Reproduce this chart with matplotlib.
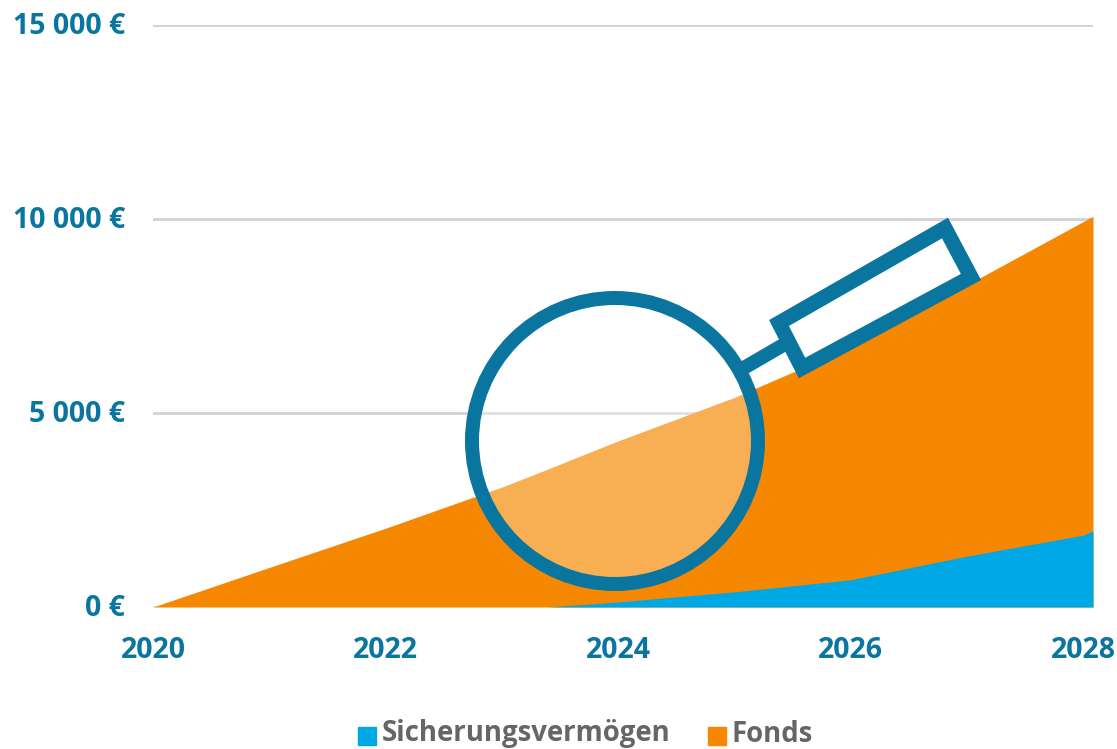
import matplotlib
matplotlib.use('Agg')
import matplotlib.pyplot as plt
from matplotlib.patches import Circle, Polygon, Patch
from matplotlib.transforms import ScaledTranslation

years = [2020, 2021, 2022, 2023, 2023.4, 2024, 2025, 2026, 2027, 2028, 2028.086]
# top of the orange area (stacked total)
total = [0, 1020, 2030, 3090, 3560, 4280, 5400, 6700, 8300, 9930, 10070]
sicherung = [0, 0, 0, 0, 0, 130, 390, 700, 1310, 1850, 1960]

x_ticks = [2020, 2022, 2024, 2026, 2028]
y_ticks = [0, 5000, 10000, 15000]
y_labels = ['0 €', '5 000 €', '10 000 €', '15 000 €']

BLUE = '#00a7e5'
ORANGE = '#f68700'
PETROL = '#0a76a0'
GREY = '#666666'
W, H = 1117, 749

plt.rcParams['font.family'] = ['Open Sans', 'DejaVu Sans']

fig = plt.figure(figsize=(W / 100, H / 100), dpi=100)
ax = fig.add_axes([153 / W, 1 - 607 / H, 940 / W, 582 / H])

ax.fill_between(years, 0, total, color=ORANGE, lw=0, zorder=2)
ax.fill_between(years, 0, sicherung, color=BLUE, lw=0, zorder=3)

ax.set_xlim(2020, 2028.086)
ax.set_ylim(0, 15000)
ax.set_xticks(x_ticks)
ax.set_yticks(y_ticks)
ax.set_yticklabels(y_labels)
ax.tick_params(length=0, labelsize=20.5, labelcolor=PETROL)
ax.tick_params(axis='y', pad=20)
ax.tick_params(axis='x', pad=21)
for lab in ax.get_xticklabels() + ax.get_yticklabels():
    lab.set_fontweight('bold')
# y labels sit slightly above their grid lines
for lab in ax.get_yticklabels():
    lab.set_transform(lab.get_transform() + ScaledTranslation(0, 2.5 / 100, fig.dpi_scale_trans))
ax.grid(axis='y', color='#d2d2d2', lw=2, zorder=1)
ax.set_axisbelow(True)
for s in ax.spines.values():
    s.set_visible(False)

handles = [Patch(color=BLUE, label='Sicherungsvermögen'), Patch(color=ORANGE, label='Fonds')]
leg = fig.legend(handles=handles, loc='center', bbox_to_anchor=(585.5 / W, 1 - 734 / H), ncol=2, frameon=False,
                 labelcolor=GREY, handlelength=0.66, handleheight=0.66, handletextpad=0.2,
                 columnspacing=1.38, borderpad=0, prop={'weight': 'bold', 'size': 19.8})
for h in leg.legend_handles:
    h.set_y(h.get_y() - 3)

# magnifying glass, in pixels of the picture
over = fig.add_axes([0, 0, 1, 1], facecolor='none')
over.set_xlim(0, W)
over.set_ylim(H, 0)
over.axis('off')
lw_px = 14 * 0.72
over.add_patch(Circle((615, 441), 143, fc=(1, 1, 1, 0.33), ec=PETROL, lw=lw_px))
over.plot([742, 785], [369, 344], color=PETROL, lw=lw_px, solid_capstyle='butt')
over.add_patch(Polygon([(779, 323), (945, 228), (971, 277), (802, 368)], closed=True, fc='white', ec=PETROL,
                       lw=15 * 0.72, joinstyle='miter'))

fig.savefig('out.png', dpi=100)
